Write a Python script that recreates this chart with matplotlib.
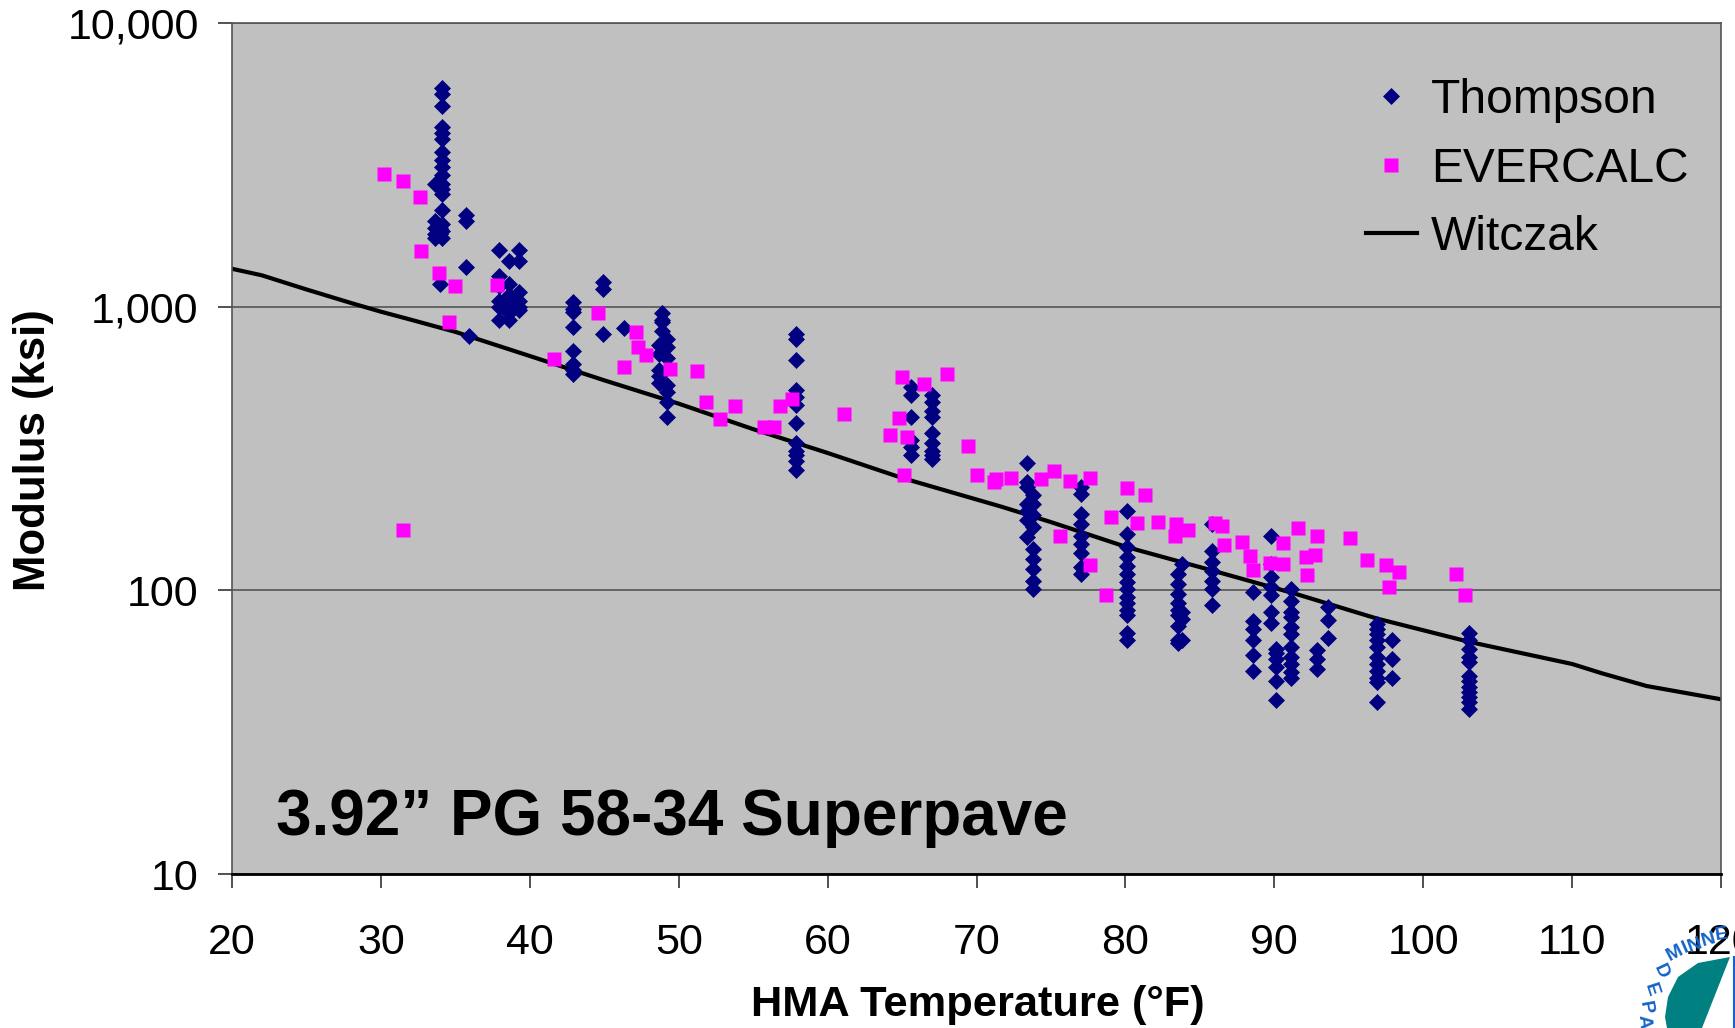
import matplotlib
matplotlib.use("Agg")
import matplotlib.pyplot as plt
from matplotlib.patches import Polygon
from matplotlib.lines import Line2D
from matplotlib.ticker import FuncFormatter, NullLocator

plt.rcParams['font.family'] = ['Liberation Sans', 'DejaVu Sans']

# Thompson: temperature -> modulus values per test column
thompson = {
    34.1: [5900, 5600, 5100, 4300, 4100, 3900, 3500, 3300, 3100, 2900, 2700, 2600, 2500, 2200, 1950, 1850, 1750],
    33.6: [2700, 2000, 1900, 1800, 1750],
    34.0: [1200, 1900, 1800],
    35.7: [2100, 2000, 1380],
    35.9: [790],
    37.9: [1580, 1280, 1180, 1050, 1000, 900],
    38.6: [1450, 1200, 1100, 1050, 1020, 950, 900],
    39.3: [1580, 1450, 1130, 1050, 1000, 970],
    42.9: [1040, 980, 960, 850, 700, 630, 600, 580],
    44.9: [1220, 1150, 800],
    46.3: [840],
    48.7: [730, 680, 600, 570, 540],
    48.9: [950, 900, 880, 820, 720],
    49.2: [770, 720, 660, 530, 500, 460, 410],
    57.9: [800, 770, 650, 510, 480, 450, 390, 330, 310, 300, 285, 265],
    65.6: [520, 490, 410, 340, 320, 300],
    67.0: [490, 460, 430, 410, 360, 330, 310, 300, 290],
    73.4: [281, 241, 231, 202, 191, 177, 154],
    73.8: [216, 202, 184, 167, 140, 129, 119, 108, 101],
    77.0: [231, 219, 186, 172, 156, 146, 135, 121, 114],
    80.1: [190, 158, 142, 131, 122, 114, 107, 101, 95, 90, 85, 82, 71, 66.6],
    83.5: [114, 105, 97, 90, 85, 82, 75, 66.6, 65],
    83.8: [124, 84, 79, 67],
    85.8: [172, 138, 126, 117, 108, 101, 88.5],
    88.6: [99, 78, 73, 67, 59, 52],
    89.8: [156, 124, 111, 103, 96, 84, 77],
    90.1: [62.3, 60, 57.4, 53.7, 48, 41],
    91.1: [101, 92, 84, 80.5, 74, 70, 63, 58, 55, 51.5, 49],
    92.9: [61.4, 57.4, 53],
    93.6: [87, 78.4, 68],
    96.9: [76.3, 73, 70, 66.6, 63, 58, 55, 52, 49, 47.5, 40.4],
    97.9: [67, 57.4, 49],
    103.1: [71, 66.6, 62.3, 58, 56, 50, 48, 45.6, 43.8, 42, 40.4, 38.3],
}

evercalc_t = [30.2, 31.5, 32.6, 32.7, 33.9, 35.0, 34.6, 31.5, 37.8, 41.6, 44.6, 46.3, 47.1, 47.3, 47.8,
              49.4, 51.2, 51.8, 52.8, 53.8, 55.7, 56.4, 56.8, 57.6, 61.1, 64.2, 64.8, 65.0, 65.3, 65.1,
              66.5, 68.0, 69.4, 70.0, 71.2, 71.3, 72.3, 74.3, 75.2, 76.3, 77.6, 75.6, 77.6, 78.7, 79.0,
              80.1, 81.3, 80.8, 82.2, 83.3, 83.4, 84.2, 86.0, 86.5, 86.6, 87.8, 88.4, 88.6, 89.7, 90.6,
              90.6, 91.6, 92.2, 92.1, 92.7, 92.9, 95.1, 96.2, 97.5, 97.7, 98.4, 102.2, 102.8]
evercalc_m = [2924, 2770, 2443, 1574, 1314, 1180, 885, 163, 1191, 652, 951, 612, 816, 720, 676,
              601, 591, 463, 402, 447, 377, 377, 447, 472, 420, 354, 405, 565, 348, 254,
              535, 580, 324, 254, 240, 247, 249, 247, 263, 243, 249, 156, 123, 96, 182,
              230, 216, 173, 174, 156, 171, 163, 173, 168, 144, 148, 132, 118, 125, 147,
              124, 166, 113, 131, 133, 156, 153, 128, 123, 103, 116, 114, 96]

witczak_t = [20, 22, 25, 28, 30, 32, 35, 40, 45, 50, 55, 60, 65, 71.7, 75, 80.1, 85.8, 91.4, 96.9, 103.1,
             105.2, 110, 112, 115, 120]
witczak_m = [1360, 1290, 1150, 1030, 960, 900, 815, 670, 550, 455, 370, 305, 249, 197, 174, 142, 117.6,
             97.3, 79.5, 65.8, 62.3, 55, 51, 46, 41.3]

x_ticks = [20, 30, 40, 50, 60, 70, 80, 90, 100, 110, 120]
y_ticks = [10, 100, 1000, 10000]

W, H = 1735, 1028
fig = plt.figure(figsize=(W / 100, H / 100), dpi=100, facecolor='white')
ax = fig.add_axes([232 / W, 1 - 874 / H, (1721 - 232) / W, (874 - 23) / H], facecolor='#C0C0C0')

ax.set_yscale('log')
ax.set_xlim(20, 120)
ax.set_ylim(10, 10000)
ax.grid(True, axis='y', which='major', color='#555555', lw=1.2, zorder=1)
ax.set_axisbelow(True)

ax.plot(witczak_t, witczak_m, color='black', lw=3, zorder=2, label='Witczak')
tx = [t for t, ms in thompson.items() for _ in ms]
ty = [m for ms in thompson.values() for m in ms]
ax.plot(tx, ty, ls='none', marker='D', ms=8.3, mfc='#000080', mec='#000080', mew=0.5, zorder=3, label='Thompson')
ax.plot(evercalc_t, evercalc_m, ls='none', marker='s', ms=10.3, mfc='#FF00FF', mec='none', zorder=4, label='EVERCALC')

ax.set_xticks(x_ticks)
ax.set_yticks(y_ticks)
ax.yaxis.set_minor_locator(NullLocator())
ax.yaxis.set_major_formatter(FuncFormatter(lambda v, p: f'{int(v):,}'))
ax.tick_params(axis='x', length=10, width=1.2, pad=25, labelsize=31, color='#333333')
ax.tick_params(axis='y', length=10, width=1.2, pad=14, labelsize=31, color='#333333')
for s in ['left', 'top', 'right']:
    ax.spines[s].set_color('#555555')
    ax.spines[s].set_linewidth(1.2)
ax.spines['bottom'].set_color('black')
ax.spines['bottom'].set_linewidth(2)

fig.text(978 / W, 1 - 1005 / H, 'HMA Temperature (°F)', ha='center', va='center', fontsize=31.2, fontweight='bold')
fig.text(33 / W, 1 - 450 / H, 'Modulus (ksi)', ha='center', va='center', rotation=90, fontsize=31.5, fontweight='bold')
fig.text(276 / W, 1 - 818 / H, '3.92” PG 58-34 Superpave', ha='left', va='center', fontsize=46, fontweight='bold')

handles, labels = ax.get_legend_handles_labels()
order = [labels.index(n) for n in ['Thompson', 'EVERCALC', 'Witczak']]
ax.legend([handles[i] for i in order], [labels[i] for i in order], loc='upper right',
          bbox_to_anchor=(0.9975, 0.969), frameon=False, fontsize=34.5, handlelength=1.05,
          handletextpad=0.3, labelspacing=0.49, borderaxespad=0.4, borderpad=0.2)

# Seal in the lower right corner
teal = [(1730, 957), (1698, 963), (1678, 977), (1668, 997), (1665, 1017), (1667, 1028), (1702, 1028)]
fig.add_artist(Polygon([(x / W, 1 - y / H) for x, y in teal], closed=True, transform=fig.transFigure,
                       facecolor='#008080', edgecolor='none'))
fig.add_artist(Line2D([1734 / W, 1734 / W], [1 - 957 / H, 0], transform=fig.transFigure, color='#1464C8', lw=1.5))
seal_blue = '#1464C8'
for ch, x, y, r in [('M', 1675, 953, 28), ('I', 1685, 948, 24), ('N', 1695, 945, 20), ('N', 1708, 940, 15), ('E', 1722, 935, 8),
                    ('D', 1661, 971, -65), ('E', 1651, 990, -72), ('P', 1645, 1008, -80), ('A', 1643, 1022, -86)]:
    fig.text(x / W, 1 - y / H, ch, color=seal_blue, fontsize=14, fontweight='bold', rotation=r,
             ha='center', va='center', rotation_mode='anchor')

fig.savefig('out.png', dpi=100)
